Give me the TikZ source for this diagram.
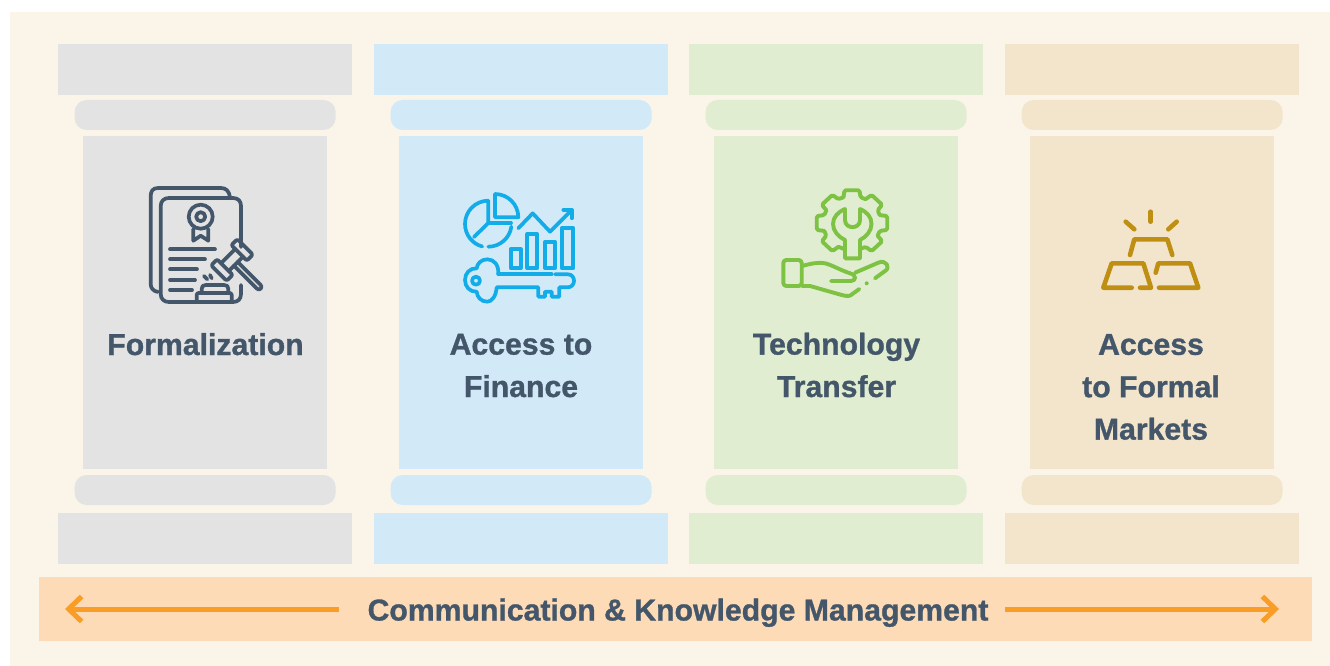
\documentclass[tikz,border=0pt]{standalone}
\usepackage{fontspec}
\setmainfont{Liberation Sans}[BoldFeatures={FakeBold=1}]
\usetikzlibrary{arrows.meta}
\definecolor{pagebg}{HTML}{FBF4E9}
\definecolor{bandbg}{HTML}{FEDBB7}
\definecolor{arrowcol}{HTML}{F99D27}
\definecolor{inkcol}{HTML}{44576A}
\definecolor{greybg}{HTML}{E3E3E3}
\definecolor{bluebg}{HTML}{D2EAF8}
\definecolor{greenbg}{HTML}{E0EDD0}
\definecolor{tanbg}{HTML}{F2E5CC}
\definecolor{blueink}{HTML}{12ACE8}
\definecolor{greenink}{HTML}{7DC242}
\definecolor{tanink}{HTML}{BF8F14}
\tikzset{
  pillarlabel/.style={anchor=base, align=center, text=inkcol, font=\fontsize{30.2}{42.4}\selectfont\bfseries},
  bandlabel/.style={anchor=base, text=inkcol, font=\fontsize{30.2}{37}\selectfont\bfseries},
  iconline/.style={line width=3.7pt, line cap=round, line join=round},
  bandarrow/.style={draw=arrowcol, line width=5pt, -{Straight Barb[length=13pt,width=25pt,line width=5pt]}}
}
\begin{document}
\begin{tikzpicture}[x=1pt, y=-1pt]
\useasboundingbox (0,0) rectangle (1330,666);
\fill [pagebg] (10,12) rectangle (1330,666);
\foreach \x/\col in {58/greybg, 374/bluebg, 689/greenbg, 1005/tanbg} {
  \fill [\col] (\x,44) rectangle ++(294,51);
  \fill [\col, rounded corners=12pt] (\x+16.6,100) rectangle ++(261,30);
  \fill [\col] (\x+25,136) rectangle ++(244,333);
  \fill [\col, rounded corners=12pt] (\x+16.6,475) rectangle ++(261,30);
  \fill [\col] (\x,513) rectangle ++(294,51);
}
\fill [bandbg] (39,577) rectangle (1312,641);
\node [pillarlabel] (formal) at (205.5,355) {Formalization};
\node [pillarlabel] (finance) at (521,397) {Access to\\Finance};
\node [pillarlabel] (techno) at (836.5,397) {Technology\\Transfer};
\node [pillarlabel] (markets) at (1151,439.6) {Access\\to Formal\\Markets};
\node [bandlabel] (comm) at (678,620.5) {Communication \& Knowledge Management};
\coordinate (AL) at (339,609);
\coordinate (ZL) at (65,609);
\coordinate (AR) at (1005,609);
\coordinate (ZR) at (1279,609);
\draw [bandarrow] (AL) -- (ZL);
\draw [bandarrow] (AR) -- (ZR);
\begin{scope}[iconline, draw=inkcol]
\draw (158,292) .. controls (153,291) and (150.7,288) .. (150.7,284) -- (150.7,196) .. controls (150.7,191) and (153,188) .. (158,188) -- (221,188) .. controls (226,188) and (229,191) .. (230,197);
\draw (241,247) -- (241,206) .. controls (241,201) and (238,198) .. (233,198) -- (169,198) .. controls (164,198) and (160.7,201) .. (160.7,206) -- (160.7,294) .. controls (160.7,299) and (164,302) .. (169,302) -- (233,302) .. controls (238,302) and (241,299) .. (241,294) -- (241,285);
\draw (200.7,216.7) circle [radius=12];
\draw (200.7,216.7) circle [radius=4.5];
\draw (193.3,229) -- (193.3,240.7) -- (200.7,235.7) -- (208.3,240.7) -- (208.3,229);
\draw (170,249.3) -- (215,249.3);
\draw (170,259.3) -- (205,259.3);
\draw (170,269.3) -- (197,269.3);
\draw (170,280) -- (195,280);
\draw (170,290) -- (192,290);
\draw (201.7,292) -- (201.7,289) .. controls (201.7,286) and (203,285) .. (206,285) -- (224,285) .. controls (227,285) and (228.3,286) .. (228.3,289) -- (228.3,292);
\draw [rounded corners=2pt] (196.7,302) -- (196.7,293) -- (231.7,293) -- (231.7,302);
\draw (204,276) -- (207.3,279.3);
\draw (210,275) -- (211.7,278.3);
\begin{scope}[shift={(232,260)}, rotate=45]
\draw [rounded corners=2pt] (10,-11) rectangle (18.5,11);
\draw [rounded corners=2pt] (-18.5,-11) rectangle (-10,11);
\draw (-10,-5.5) -- (10,-5.5);
\draw (-10,5.5) -- (10,5.5);
\draw (-2.6,5.5) -- (-2.6,38) arc [start angle=180, end angle=0, radius=2.6] -- (2.6,5.5);
\end{scope}
\end{scope}
\begin{scope}[iconline, draw=blueink]
\draw (488.3,200.7) arc [start angle=-90, end angle=-255, radius=23.3];
\draw (488.3,246.7) arc [start angle=90, end angle=8, radius=23.3];
\draw (488.3,200.7) -- (488.3,223) -- (474,237);
\draw (488.3,223) -- (511,223);
\draw (495,194) -- (495,217.3) -- (518.3,217.3) arc [start angle=0, end angle=-90, radius=23.3];
\draw (518.3,228.3) -- (532.7,213.3) -- (550,231.7) -- (571.7,210);
\draw (563.3,210) -- (571.7,210) -- (571.7,218.3);
\draw (510.7,249.3) rectangle (520.7,268.3);
\draw (527.3,234) rectangle (537.3,268.3);
\draw (545,241.7) rectangle (555,268.3);
\draw (561.7,228.3) rectangle (573.3,268.3);
\draw (498.3,274.3) .. controls (499,265) and (494,259.3) .. (487.3,259.3) .. controls (481,259.3) and (477,264) .. (476.7,268.3) .. controls (470,268) and (465,273) .. (465,280) .. controls (465,287) and (470,292) .. (476.7,291.7) .. controls (477,297) and (481,301.7) .. (487.3,301.7) .. controls (492,301.7) and (496,296) .. (496.7,287.3) -- (538.3,287.3) -- (538.3,296.7) -- (545,296.7) -- (545,291.7) -- (551.7,291.7) -- (551.7,296.7) -- (559.3,296.7) -- (559.3,287.3) -- (568,287.3) .. controls (576,287) and (576,274.5) .. (568,274.3) -- (555,274.3);
\draw (498.3,274.3) -- (551.7,274.3);
\draw (476,280.7) circle [radius=4];
\end{scope}
\begin{scope}[iconline, draw=greenink, line width=3.9pt]
\begin{scope}[shift={(852,223)}, yscale=0.93, rounded corners=1.5pt]
\foreach \a in {-90,-45,0,45,135,180,225} {
  \draw (\a-17:29) -- (\a-12:36) -- (\a+12:36) -- (\a+17:29) -- (\a+28:29);
}
\draw (107:29) -- (118:29);
\end{scope}
\draw (845,209) -- (845,220) .. controls (845,229.5) and (860,229.5) .. (860,220) -- (860,209) .. controls (867,212) and (871.5,217) .. (871.5,224) .. controls (871.5,231) and (866,237) .. (860,240) -- (860,258.3) -- (845,258.3) -- (845,240) .. controls (838.5,237) and (833,231) .. (833,224) .. controls (833,217) and (838,212) .. (845,209) -- cycle;
\draw [rounded corners=3pt] (783.3,260) rectangle (801.7,286);
\draw (802,266) .. controls (810,264) and (816,262) .. (825,263.3) .. controls (832,265) and (840,270) .. (850,273.3) .. controls (857,275) and (856,281) .. (851,281) -- (831,281);
\draw (855,272.7) -- (878.3,262.7) .. controls (886,259) and (891,268) .. (885,271) -- (875,278.3);
\draw (802,286) -- (810,286) -- (841.7,295) .. controls (847,296.5) and (850,296) .. (851,295) -- (859.3,289);
\fill [greenink, draw=none] (866.7,283.3) circle [radius=2];
\end{scope}
\begin{scope}[iconline, draw=tanink, line width=4.6pt]
\draw (1150.7,211.7) -- (1150.7,221.7);
\draw (1125.7,221.7) -- (1134.3,229.3);
\draw (1176.7,221.7) -- (1168.3,229.3);
\draw (1130,255) -- (1134.3,239.3) -- (1167.3,239.3) -- (1172.3,255);
\draw (1131.7,287.7) -- (1103.3,287.7) -- (1111.7,263.3) -- (1143.3,263.3) -- (1151,287.7) -- (1140,287.7);
\draw (1155.7,272.7) -- (1158.3,263.3) -- (1190,263.3) -- (1198.3,287.7) -- (1159,287.7);
\end{scope}
\end{tikzpicture}
\end{document}
